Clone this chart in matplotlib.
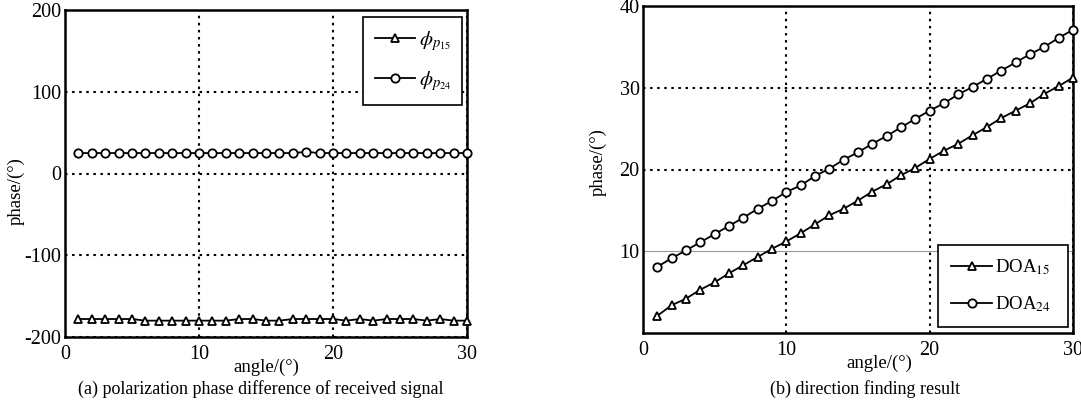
# -*- coding: utf-8 -*-
# polarization phase difference and DOA result, two panels
from matplotlib import pyplot as plt

# angle (deg)
angle = list(range(1, 31))

# panel (a): polarization phase difference
phi_p15 = [-178, -178, -178, -178, -178, -180, -180, -180, -180, -180,
           -180, -180, -178, -178, -180, -180, -178, -178, -178, -178,
           -180, -178, -180, -178, -178, -178, -180, -178, -180, -180]
phi_p24 = [25, 25, 25, 25, 25, 25, 25, 25, 25, 25,
           25, 25, 25, 25, 25, 25, 25, 26.5, 25, 25,
           25, 25, 25, 25, 25, 25, 25, 25, 25, 25]

# panel (b): direction finding result
doa15 = [2.1, 3.4, 4.2, 5.3, 6.2, 7.3, 8.3, 9.3, 10.3, 11.2,
         12.2, 13.3, 14.4, 15.2, 16.2, 17.3, 18.2, 19.3, 20.2, 21.3,
         22.3, 23.15, 24.2, 25.2, 26.3, 27.2, 28.1, 29.25, 30.2, 31.25]
doa24 = [8.1, 9.15, 10.1, 11.1, 12.1, 13.1, 14.1, 15.2, 16.15, 17.25,
         18.05, 19.2, 20.1, 21.2, 22.1, 23.15, 24.1, 25.15, 26.2, 27.2,
         28.1, 29.2, 30.1, 31.1, 32.1, 33.1, 34.1, 35.0, 36.1, 37.1]

xticks = [0, 10, 20, 30]
yticks_a = [-200, -100, 0, 100, 200]
yticks_b = [10, 20, 30, 40]

plt.rcParams['font.family'] = ['Liberation Serif', 'DejaVu Serif']
plt.rcParams['mathtext.fontset'] = 'stix'
plt.rcParams['axes.unicode_minus'] = False

fig = plt.figure(figsize=(10.81, 4.0), dpi=100)
ax1 = fig.add_axes([0.0601, 0.1575, 0.3719, 0.8175])
ax2 = fig.add_axes([0.5948, 0.1675, 0.3978, 0.8175])

lkw = dict(color='k', linewidth=1.3, markersize=6, markerfacecolor='white',
           markeredgecolor='k', markeredgewidth=1.3, clip_on=False, zorder=5)

ax1.plot(angle, phi_p15, marker='^', label=r'$\phi_{p_{15}}$', **lkw)
ax1.plot(angle, phi_p24, marker='o', label=r'$\phi_{p_{24}}$', **lkw)
ax1.set_xlim(0, 30)
ax1.set_ylim(-200, 200)
ax1.set_yticks(yticks_a)

ax2.plot(angle, doa15, marker='^', label=r'DOA$_{15}$', **lkw)
ax2.plot(angle, doa24, marker='o', label=r'DOA$_{24}$', **lkw)
ax2.set_xlim(0, 30)
ax2.set_ylim(0, 40)
ax2.set_yticks(yticks_b)

for ax in (ax1, ax2):
    ax.set_xticks(xticks)
    ax.tick_params(length=0, labelsize=14.5)
    ax.tick_params(axis='x', pad=6)
    ax.tick_params(axis='y', pad=2.5)
    ax.grid(True, color='k', linestyle=(0, (1.2, 2.2)), linewidth=1.5)
    for s in ax.spines.values():
        s.set_linewidth(1.8)
    ax.set_ylabel('phase/(°)', fontsize=13.5)
    ax.set_xlabel('angle/(°)', fontsize=13.5, labelpad=-3)

ax1.yaxis.set_label_coords(-0.0995, 0.445)
ax2.yaxis.set_label_coords(-0.084, 0.524)
ax1.xaxis.set_label_coords(0.5, -0.065)
ax2.xaxis.set_label_coords(0.55, -0.065)

# the 10 line in (b) is a thin grey solid line
for gl, v in zip(ax2.get_ygridlines(), yticks_b):
    if v == 10:
        gl.set_color('0.6')
        gl.set_linestyle('-')
        gl.set_linewidth(0.8)

leg1 = ax1.legend(loc='upper left', mode='expand', fontsize=15, frameon=True,
                  fancybox=False, edgecolor='k', framealpha=1, handlelength=1.9,
                  labelspacing=0.75, borderpad=0.6, handletextpad=0.2,
                  borderaxespad=0, bbox_to_anchor=(0.741, 0.0, 0.247, 0.979))
leg1.get_frame().set_linewidth(1.2)
leg1.set_zorder(10)
leg2 = ax2.legend(loc='lower left', mode='expand', fontsize=13.5, frameon=True,
                  fancybox=False, edgecolor='k', framealpha=1, handlelength=2.2,
                  labelspacing=0.9, borderpad=0.7, handletextpad=0.15,
                  borderaxespad=0, bbox_to_anchor=(0.686, 0.018, 0.302, 0.3))
leg2.get_frame().set_linewidth(1.2)
leg2.set_zorder(10)

fig.text(0.241, 0.015, '(a) polarization phase difference of received signal',
         ha='center', fontsize=13)
fig.text(0.80, 0.015, '(b) direction finding result', ha='center', fontsize=13)

plt.savefig('out.png', dpi=100)
